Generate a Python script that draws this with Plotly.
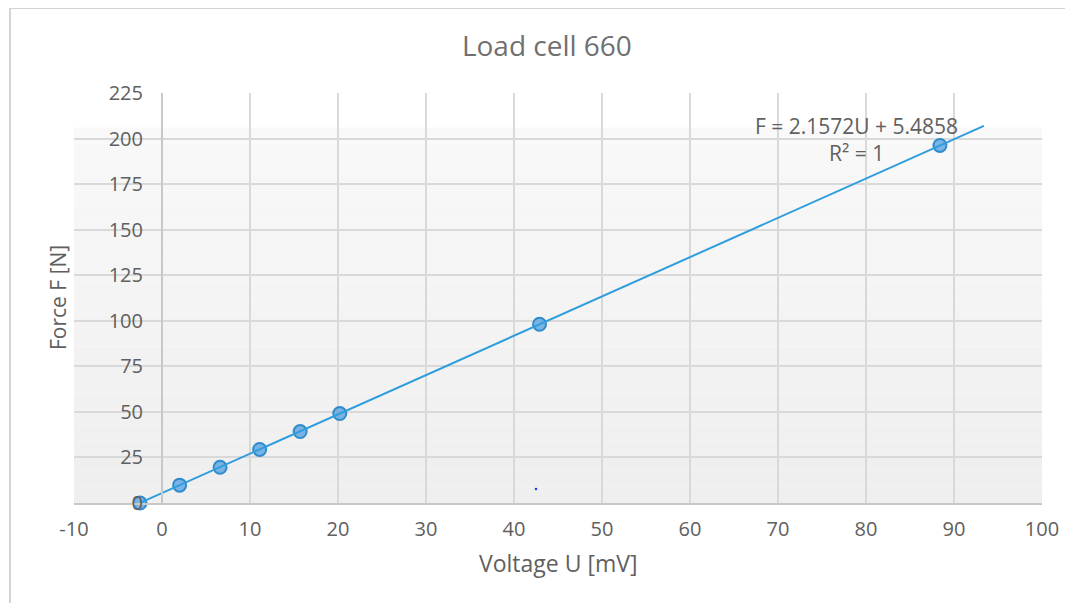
import plotly.graph_objects as go

# ---- data ----
voltage_mV = [-2.5, 2.0, 6.6, 11.1, 15.7, 20.2, 42.9, 88.4]
force_N = [0.0, 9.8, 19.6, 29.4, 39.2, 49.1, 98.1, 196.2]

trend_slope = 2.1572
trend_intercept = 5.4858
trend_u_start = -2.5
trend_u_end = 93.4

stray_u = [42.5]
stray_f = [7.7]

x_ticks = [-10, 0, 10, 20, 30, 40, 50, 60, 70, 80, 90, 100]
x_tick_labels = ["-10", "0", "10", "20", "30", "40", "50", "60", "70", "80", "90", "100"]
y_ticks = [0, 25, 50, 75, 100, 125, 150, 175, 200, 225]
y_tick_labels = ["0", "25", "50", "75", "100", "125", "150", "175", "200", "225"]

title_text = "Load cell 660"
x_title = "Voltage U [mV]"
y_title = "Force F [N]"
eq_text = "F = 2.1572U + 5.4858<br>R² = 1"

FONT = "Open Sans"
TXT = "#606060"
GRID = "#d9d9d9"

trend_u = [trend_u_start, trend_u_end]
trend_f = [trend_slope * u + trend_intercept for u in trend_u]

fig = go.Figure()

fig.add_trace(go.Scatter(
    x=voltage_mV, y=force_N, mode="markers",
    marker=dict(size=13, color="rgba(100,168,226,0.85)",
                line=dict(color="#2f8bcc", width=2)),
    showlegend=False, cliponaxis=False))

fig.add_trace(go.Scatter(
    x=trend_u, y=trend_f, mode="lines",
    line=dict(color="#2e9ddd", width=2),
    showlegend=False, cliponaxis=False))

fig.add_trace(go.Scatter(
    x=stray_u, y=stray_f, mode="markers",
    marker=dict(size=2.5, color="#2233ee"), showlegend=False))

# background gradient of the plot area (style only)
shapes = []
n = 24
top_white = 206.0
for i in range(n):
    y0 = top_white * i / n
    y1 = top_white * (i + 1) / n
    t = i / (n - 1)
    c = int(239 + (249 - 239) * t)
    shapes.append(dict(type="rect", xref="x domain", yref="y",
                       x0=0, x1=1, y0=y0, y1=y1, layer="below",
                       line=dict(width=0), fillcolor=f"rgb({c},{c},{c})"))
# outer chart frame (top and left edges)
shapes.append(dict(type="line", xref="paper", yref="paper",
                   x0=-0.0661, x1=1.1, y0=1.2073, y1=1.2073,
                   line=dict(color="#d4d4d4", width=2)))
shapes.append(dict(type="line", xref="paper", yref="paper",
                   x0=-0.0661, x1=-0.0661, y0=-0.3, y1=1.2073,
                   line=dict(color="#d4d4d4", width=2)))

fig.update_layout(
    width=1065, height=595,
    margin=dict(l=66, r=31, t=85, b=100),
    paper_bgcolor="white", plot_bgcolor="white",
    font=dict(family=FONT, color=TXT),
    title=dict(text=title_text, x=0.506, xanchor="center",
               y=0.935, yanchor="middle",
               font=dict(family=FONT, size=28, color="#707070")),
    shapes=shapes,
    xaxis=dict(range=[-10, 100], tickvals=x_ticks, ticktext=x_tick_labels,
               showgrid=True, gridcolor=GRID, gridwidth=2, zeroline=False,
               showline=True, linecolor="#c8c8c8", linewidth=2,
               ticks="", ticklabelstandoff=7,
               tickfont=dict(family=FONT, size=20, color=TXT)),
    yaxis=dict(range=[0, 225], tickvals=y_ticks, ticktext=y_tick_labels,
               showgrid=True, gridcolor=GRID, gridwidth=2, zeroline=False,
               anchor="free", position=10 / 110,
               showline=True, linecolor="#c8c8c8", linewidth=2,
               ticks="", ticklabelstandoff=14,
               tickfont=dict(family=FONT, size=20, color=TXT)),
    annotations=[
        dict(text=x_title, xref="paper", yref="paper", x=0.5, y=-0.146,
             showarrow=False, xanchor="center", yanchor="middle",
             font=dict(family=FONT, size=23, color=TXT)),
        dict(text=y_title, xref="paper", yref="paper", x=-0.0165, y=0.5,
             textangle=-90, showarrow=False, xanchor="center", yanchor="middle",
             font=dict(family=FONT, size=21, color=TXT)),
        dict(text=eq_text, xref="x", yref="y", x=78.9, y=199.5,
             showarrow=False, xanchor="center", yanchor="middle", align="center",
             font=dict(family=FONT, size=21, color=TXT)),
    ],
)

fig.write_html("out.html")
